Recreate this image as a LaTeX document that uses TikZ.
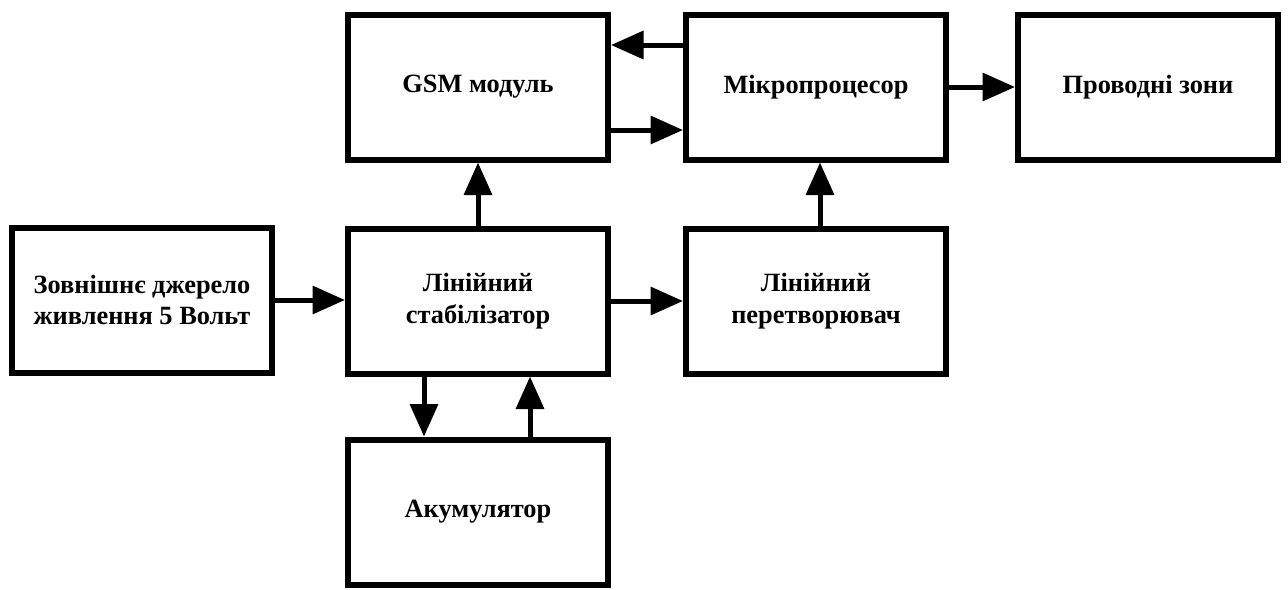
\documentclass[tikz,border=0pt]{standalone}
\usepackage{fontspec}
\setmainfont{Liberation Serif}
\usetikzlibrary{arrows.meta}
\begin{document}
\begin{tikzpicture}[x=0.2mm,y=-0.2mm,
		blok/.style={draw,line width=1.2mm,minimum width=52mm,minimum height=29mm,align=center,font=\bfseries\fontsize{15}{18}\selectfont},
		strilka/.style={line width=1mm,-{Triangle[length=6.5mm,width=5.5mm]}}]
		\useasboundingbox (0,0) rectangle (1288,589);
		\node[blok] (gsm) at (478,87) {GSM модуль};
		\node[blok] (micro) at (816,87) {Мікропроцесор};
		\node[blok] (prov) at (1148,87) {Проводні зони};
		\node[blok] (zovn) at (142,300) {Зовнішнє джерело\\живлення 5 Вольт};
		\node[blok] (stab) at (478,301) {Лінійний\\стабілізатор};
		\node[blok] (pere) at (816,301) {Лінійний\\перетворювач};
		\node[blok] (akum) at (478,512) {Акумулятор};
		\draw[strilka] ([yshift=8.4mm]micro.west)--([yshift=8.4mm]gsm.east);
		\draw[strilka] ([yshift=-8.6mm]gsm.east)--([yshift=-8.6mm]micro.west);
		\draw[strilka] (micro.east)--(prov.west);
		\draw[strilka] (stab.north)--(gsm.south);
		\draw[strilka] ([xshift=0.8mm]pere.north)--([xshift=0.8mm]micro.south);
		\draw[strilka] (zovn.east)--(zovn.east-|stab.west);
		\draw[strilka] (stab.east)--(stab.east-|pere.west);
		\draw[strilka] ([xshift=-10.8mm]stab.south)--([xshift=-10.8mm]akum.north);
		\draw[strilka] ([xshift=10.4mm]akum.north)--([xshift=10.4mm]stab.south);
	\end{tikzpicture}
\end{document}
